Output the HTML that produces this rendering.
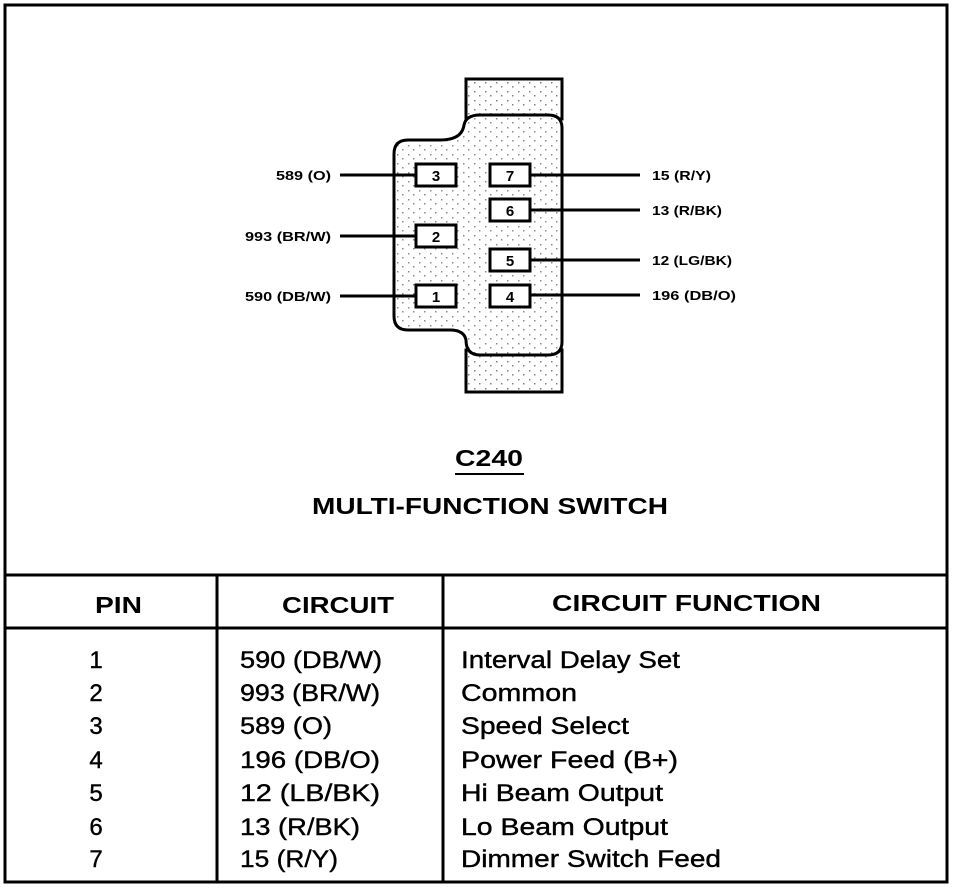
<!DOCTYPE html>
<html><head><style>
body{margin:0;background:#fff;}
svg{display:block;font-family:"Liberation Sans",Arial,sans-serif;}
</style></head><body>
<svg width="960" height="888" viewBox="0 0 960 888" xmlns="http://www.w3.org/2000/svg">
<defs>
<pattern id="dots" width="11" height="9" patternUnits="userSpaceOnUse">
<rect x="1" y="1" width="1.5" height="1.5" fill="#000"/>
<rect x="6" y="5" width="1.5" height="1.5" fill="#000"/>
</pattern>
</defs>
<rect x="5" y="5" width="942" height="877" fill="none" stroke="#000" stroke-width="3"/>
<rect x="466" y="79" width="96" height="40" fill="#fff" stroke="#000" stroke-width="3"/>
<rect x="466" y="79" width="96" height="40" fill="url(#dots)" opacity="0.5"/>
<rect x="466" y="350" width="96" height="42" fill="#fff" stroke="#000" stroke-width="3"/>
<rect x="466" y="350" width="96" height="42" fill="url(#dots)" opacity="0.5"/>
<path d="M408,140 L440,140 Q462,140 464,125 Q466,115 480,115 L548,115 Q562,115 562,128 L562,342 Q562,355 548,355 L480,355 Q466,355 466,340 Q464,330 450,330 L408,330 Q394,330 394,316 L394,154 Q394,140 408,140 Z" fill="#fff" stroke="#000" stroke-width="3"/>
<path d="M408,140 L440,140 Q462,140 464,125 Q466,115 480,115 L548,115 Q562,115 562,128 L562,342 Q562,355 548,355 L480,355 Q466,355 466,340 Q464,330 450,330 L408,330 Q394,330 394,316 L394,154 Q394,140 408,140 Z" fill="url(#dots)" opacity="0.45"/>
<g stroke="#000" stroke-width="3">
<line x1="340" y1="175" x2="416" y2="175"/>
<line x1="340" y1="236" x2="416" y2="236"/>
<line x1="340" y1="296" x2="416" y2="296"/>
<line x1="530" y1="175" x2="640" y2="175"/>
<line x1="530" y1="210" x2="640" y2="210"/>
<line x1="530" y1="260" x2="640" y2="260"/>
<line x1="530" y1="295" x2="640" y2="295"/>
</g>
<g fill="#fff" stroke="#000" stroke-width="3">
<rect x="416" y="164" width="40" height="22"/>
<rect x="416" y="225" width="40" height="22"/>
<rect x="416" y="285" width="40" height="22"/>
<rect x="490" y="164" width="40" height="22"/>
<rect x="490" y="199" width="40" height="22"/>
<rect x="490" y="249" width="40" height="22"/>
<rect x="490" y="285" width="40" height="22"/>
</g>
<g font-size="15" font-weight="bold" text-anchor="middle">
<text x="436" y="181">3</text><text x="436" y="242">2</text><text x="436" y="302">1</text>
<text x="510" y="181">7</text><text x="510" y="216">6</text><text x="510" y="266">5</text><text x="510" y="302">4</text>
</g>
<g font-size="13" font-weight="bold" lengthAdjust="spacingAndGlyphs">
<text x="276" y="180" textLength="55" lengthAdjust="spacingAndGlyphs">589 (O)</text>
<text x="245" y="241" textLength="86" lengthAdjust="spacingAndGlyphs">993 (BR/W)</text>
<text x="245" y="301" textLength="86" lengthAdjust="spacingAndGlyphs">590 (DB/W)</text>
<text x="652" y="180" textLength="59" lengthAdjust="spacingAndGlyphs">15 (R/Y)</text>
<text x="652" y="215" textLength="70" lengthAdjust="spacingAndGlyphs">13 (R/BK)</text>
<text x="652" y="265" textLength="80" lengthAdjust="spacingAndGlyphs">12 (LG/BK)</text>
<text x="652" y="300" textLength="84" lengthAdjust="spacingAndGlyphs">196 (DB/O)</text>
</g>
<text x="455" y="466" font-size="23" font-weight="bold" textLength="68" lengthAdjust="spacingAndGlyphs">C240</text>
<line x1="455" y1="474" x2="524" y2="474" stroke="#000" stroke-width="2"/>
<text x="312" y="514" font-size="23" font-weight="bold" textLength="356" lengthAdjust="spacingAndGlyphs">MULTI-FUNCTION SWITCH</text>
<g stroke="#000" stroke-width="3">
<line x1="5" y1="575" x2="947" y2="575"/>
<line x1="5" y1="628" x2="947" y2="628"/>
<line x1="217" y1="575" x2="217" y2="882"/>
<line x1="443" y1="575" x2="443" y2="882"/>
</g>
<g font-size="23" font-weight="bold">
<text x="95" y="613" textLength="47" lengthAdjust="spacingAndGlyphs">PIN</text>
<text x="282" y="613" textLength="112" lengthAdjust="spacingAndGlyphs">CIRCUIT</text>
<text x="552" y="611" textLength="269" lengthAdjust="spacingAndGlyphs">CIRCUIT FUNCTION</text>
</g>
<g font-size="24" stroke="#000" stroke-width="0.4">
<g text-anchor="middle">
<text x="96" y="668">1</text><text x="96" y="701">2</text><text x="96" y="734">3</text><text x="96" y="768">4</text><text x="96" y="801">5</text><text x="96" y="835">6</text><text x="96" y="867">7</text>
</g>
<text x="240" y="668" textLength="142" lengthAdjust="spacingAndGlyphs">590 (DB/W)</text>
<text x="240" y="701" textLength="140" lengthAdjust="spacingAndGlyphs">993 (BR/W)</text>
<text x="240" y="734" textLength="92" lengthAdjust="spacingAndGlyphs">589 (O)</text>
<text x="240" y="768" textLength="140" lengthAdjust="spacingAndGlyphs">196 (DB/O)</text>
<text x="240" y="801" textLength="140" lengthAdjust="spacingAndGlyphs">12 (LB/BK)</text>
<text x="240" y="835" textLength="120" lengthAdjust="spacingAndGlyphs">13 (R/BK)</text>
<text x="240" y="867" textLength="98" lengthAdjust="spacingAndGlyphs">15 (R/Y)</text>
<text x="461" y="668" textLength="219" lengthAdjust="spacingAndGlyphs">Interval Delay Set</text>
<text x="461" y="701" textLength="116" lengthAdjust="spacingAndGlyphs">Common</text>
<text x="461" y="734" textLength="168" lengthAdjust="spacingAndGlyphs">Speed Select</text>
<text x="461" y="768" textLength="217" lengthAdjust="spacingAndGlyphs">Power Feed (B+)</text>
<text x="461" y="801" textLength="202" lengthAdjust="spacingAndGlyphs">Hi Beam Output</text>
<text x="461" y="835" textLength="207" lengthAdjust="spacingAndGlyphs">Lo Beam Output</text>
<text x="461" y="867" textLength="260" lengthAdjust="spacingAndGlyphs">Dimmer Switch Feed</text>
</g>
</svg>
</body></html>
